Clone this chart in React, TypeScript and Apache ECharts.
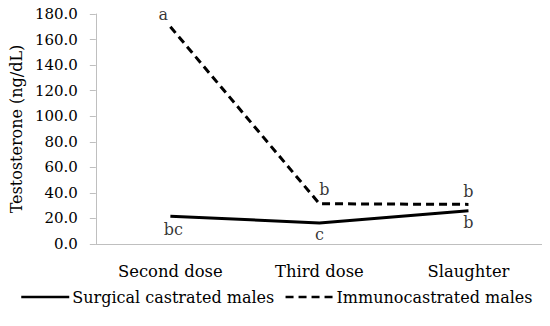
import React, { useEffect, useRef } from "react";
import * as echarts from "echarts";

const categories = ["Second dose", "Third dose", "Slaughter"];
const surgical = [21.8, 16.5, 26.0];
const immuno = [170.0, 31.5, 31.0];
const surgicalLetters = ["bc", "c", "b"];
const immunoLetters = ["a", "b", "b"];
const yTicks = [0, 20, 40, 60, 80, 100, 120, 140, 160, 180];

const FONT = "DejaVu Serif";

export default function App() {
  const ref = useRef<HTMLDivElement>(null);
  useEffect(() => {
    if (!ref.current) return;
    const chart = echarts.init(ref.current, null, { renderer: "svg" });
    const immunoOffsets = [[-7, 0], [5, -2], [0, -1]];
    const surgOffsets = [[3, 1], [0, 0], [0, 0]];
    const labelBase = { fontFamily: FONT, fontSize: 16, color: "#000" };
    chart.setOption({
      animation: false,
      textStyle: { fontFamily: FONT },
      grid: { left: 92, right: 7, top: 14, bottom: 82 },
      legend: {
        orient: "horizontal",
        bottom: 16,
        left: 15,
        width: 535,
        itemWidth: 48,
        itemHeight: 14,
        itemGap: 10,
        itemStyle: { opacity: 0, borderWidth: 0 },
        lineStyle: { width: 2.5 },
        textStyle: { fontFamily: FONT, fontSize: 16, color: "#000", padding: [0, 0, 0, -2] },
        data: ["Surgical castrated males", "Immunocastrated males"],
      },
      xAxis: {
        type: "category",
        data: categories,
        boundaryGap: true,
        axisLine: { lineStyle: { color: "#bfbfbf", width: 1 } },
        axisTick: { show: false },
        axisLabel: { fontFamily: FONT, fontSize: 16.4, color: "#000", margin: 19 },
      },
      yAxis: {
        type: "value",
        min: yTicks[0],
        max: yTicks[yTicks.length - 1],
        interval: 20,
        name: "Testosterone (ng/dL)",
        nameLocation: "middle",
        nameGap: 67,
        nameTextStyle: { fontFamily: FONT, fontSize: 16, color: "#000" },
        splitLine: { show: false },
        axisLine: { show: true, lineStyle: { color: "#bfbfbf", width: 1 } },
        axisTick: { show: true, length: 6, lineStyle: { color: "#bfbfbf" } },
        axisLabel: {
          fontFamily: FONT,
          fontSize: 15,
          color: "#000",
          margin: 18,
          formatter: (v: number) => v.toFixed(1),
        },
      },
      series: [
        {
          name: "Surgical castrated males",
          type: "line",
          symbol: "none",
          lineStyle: { color: "#000", width: 3 },
          itemStyle: { color: "#000" },
          data: surgical,
        },
        {
          name: "Immunocastrated males",
          type: "line",
          symbol: "none",
          lineStyle: { color: "#000", width: 3, type: [8, 5] },
          itemStyle: { color: "#000" },
          data: immuno,
        },
        {
          name: "surgLetters",
          type: "scatter",
          symbolSize: 0,
          silent: true,
          itemStyle: { color: "rgba(0,0,0,0)" },
          data: surgical.map((v, i) => ({
            value: v,
            label: {
              show: true,
              position: "bottom",
              distance: 4,
              offset: surgOffsets[i],
              formatter: surgicalLetters[i],
              ...labelBase,
            },
          })),
        },
        {
          name: "immunoLetters",
          type: "scatter",
          symbolSize: 0,
          silent: true,
          itemStyle: { color: "rgba(0,0,0,0)" },
          data: immuno.map((v, i) => ({
            value: v,
            label: {
              show: true,
              position: "top",
              distance: 4,
              offset: immunoOffsets[i],
              formatter: immunoLetters[i],
              ...labelBase,
            },
          })),
        },
      ],
    });
    return () => chart.dispose();
  }, []);
  return <div ref={ref} style={{ width: 550, height: 326, margin: -8 }} />;
}
